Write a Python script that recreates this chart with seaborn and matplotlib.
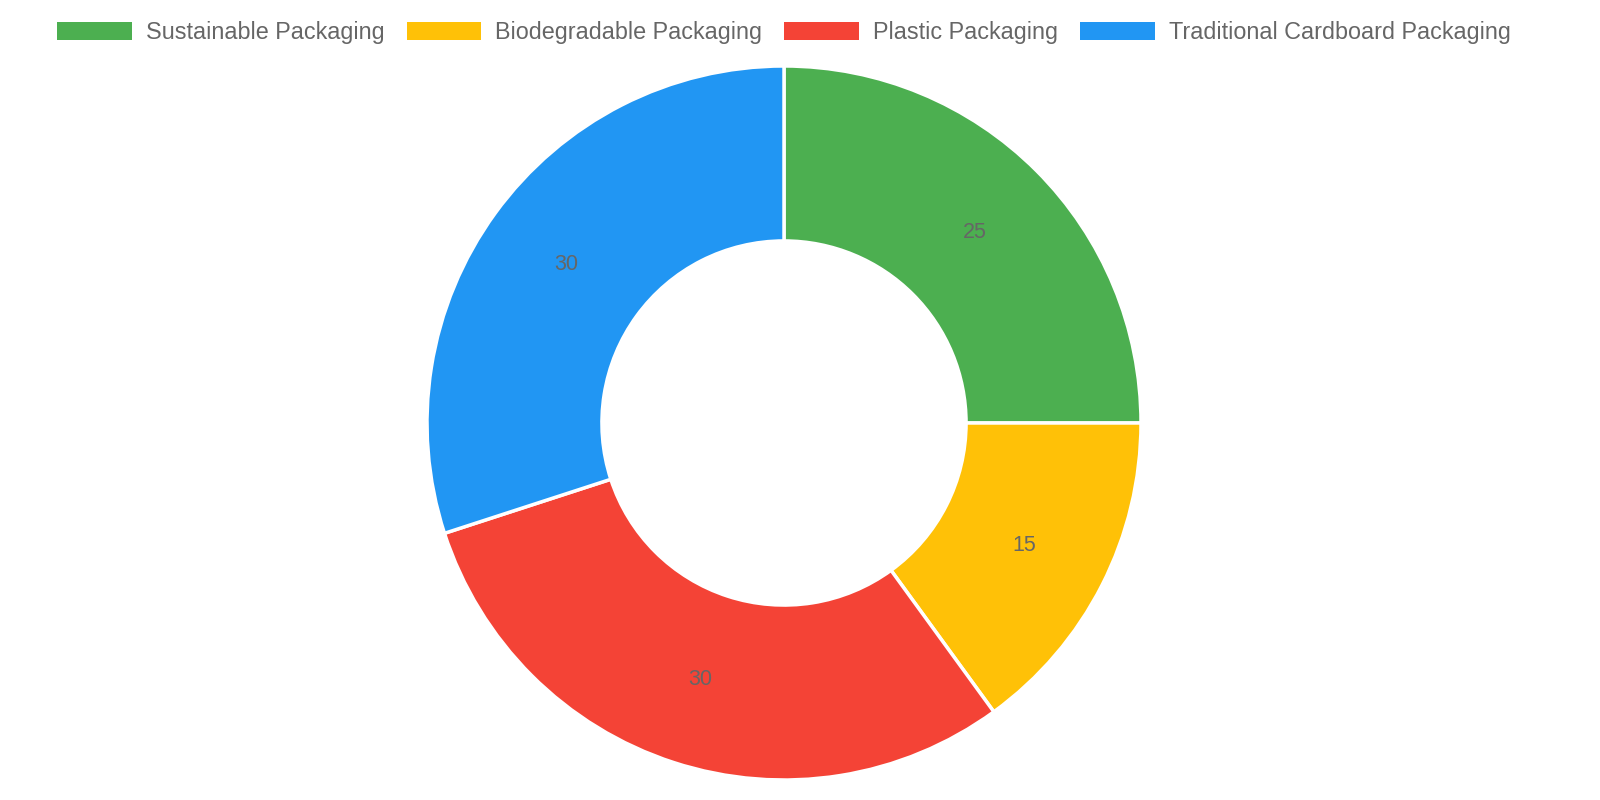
import matplotlib
matplotlib.use("Agg")
from matplotlib import pyplot as plt
from matplotlib.patches import Patch
import numpy as np
import seaborn as sns

categories = ["Sustainable Packaging", "Biodegradable Packaging", "Plastic Packaging", "Traditional Cardboard Packaging"]
values = [25, 15, 30, 30]
colors = ["#4CAF50", "#FFC107", "#F44336", "#2196F3"]

sns.set_theme(style="white")
plt.rcParams["font.family"] = ["Liberation Sans", "DejaVu Sans"]

fig = plt.figure(figsize=(16, 8), dpi=100)
# square axes around the donut: center (784, 423) px, radius 357 px
ax = fig.add_axes([(784 - 357) / 1600, (800 - 423 - 357) / 800, 714 / 1600, 714 / 800])

wedges, texts = ax.pie(
    values,
    colors=colors,
    startangle=90,
    counterclock=False,
    radius=1,
    wedgeprops=dict(width=0.49, edgecolor="white", linewidth=2.5),
)

# value labels at the middle of each ring segment
total = sum(values)
start = 90
for v in values:
    mid = np.deg2rad(start - 360 * v / total / 2)
    r = 0.755
    ax.text(r * np.cos(mid), r * np.sin(mid), str(v), ha="center", va="center",
            fontsize=15.5, color="#666666")
    start -= 360 * v / total

ax.set_xlim(-1, 1)
ax.set_ylim(-1, 1)
ax.set_aspect("equal")
ax.axis("off")

handles = [Patch(facecolor=c, edgecolor="none") for c in colors]
fig.legend(handles, categories, loc="center", bbox_to_anchor=(0.49, 1 - 32.5 / 800), ncol=4,
           frameon=False, fontsize=16.8, labelcolor="#666666",
           handlelength=3.2, handleheight=0.83, handletextpad=0.6, columnspacing=0.95)

plt.savefig("out.png", dpi=100)
